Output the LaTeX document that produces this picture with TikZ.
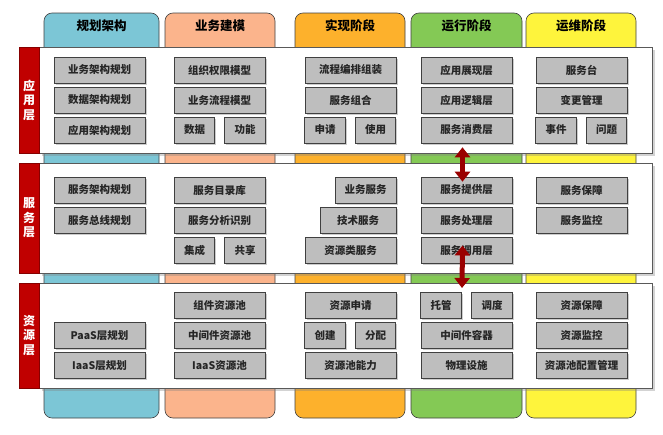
\documentclass[tikz,border=0pt]{standalone}
\usepackage{fontspec}
\setmainfont{Noto Sans CJK SC}
\usetikzlibrary{shadows,arrows.meta}
\definecolor{colA}{HTML}{7CC6D6}
\definecolor{colB}{HTML}{FBB48C}
\definecolor{colC}{HTML}{FDB12C}
\definecolor{colD}{HTML}{84C955}
\definecolor{colE}{HTML}{FEF43C}
\definecolor{barred}{HTML}{C00000}
\definecolor{boxgray}{HTML}{BEBEBE}
\definecolor{boxline}{HTML}{404040}
\definecolor{boxtext}{HTML}{262626}
\tikzset{
  stage/.style={draw=boxline, line width=0.6pt, rounded corners=8pt},
  stagetitle/.style={font=\bfseries\fontsize{12.5}{14}\selectfont, text=black},
  band/.style={draw=gray!70!black, line width=0.6pt, fill=white,
    drop shadow={shadow xshift=2.5pt, shadow yshift=-2.5pt, opacity=0.35}},
  layerbar/.style={fill=barred, draw=barred!70!black, line width=0.5pt},
  layertitle/.style={font=\bfseries\fontsize{12}{14.5}\selectfont, text=white, align=center},
  item/.style={draw=boxline, line width=0.6pt, fill=boxgray, minimum height=26pt,
    inner sep=0pt, font=\bfseries\fontsize{10.5}{12}\selectfont, text=boxtext,
    drop shadow={shadow xshift=1.5pt, shadow yshift=-1.5pt, opacity=0.4}},
  wide/.style={item, minimum width=91pt},
  half/.style={item, minimum width=40.5pt},
  link/.style={draw=barred!80!black, line width=5pt,
    {Triangle[width=15pt,length=10pt]}-{Triangle[width=15pt,length=10pt]}}
}
\begin{document}
\begin{tikzpicture}[x=1pt,y=-1pt]
\useasboundingbox (0,0) rectangle (663,434);

% stage columns
\draw[stage, fill=colA] (44,13) rectangle (159,418);
\draw[stage, fill=colB] (165,13) rectangle (275,418);
\draw[stage, fill=colC] (295,13) rectangle (405,418);
\draw[stage, fill=colD] (411,13) rectangle (522,418);
\draw[stage, fill=colE] (526,13) rectangle (636,418);
\node[stagetitle] (tA) at (101.5,26) {规划架构};
\node[stagetitle] (tB) at (220,26) {业务建模};
\node[stagetitle] (tC) at (350,26) {实现阶段};
\node[stagetitle] (tD) at (466.5,26) {运行阶段};
\node[stagetitle] (tE) at (581,26) {运维阶段};

% layer panels
\draw[band] (39,47) rectangle (652,153);
\draw[band] (39,163) rectangle (652,273);
\draw[band] (39,283) rectangle (652,388);
\draw[layerbar] (19,47) rectangle (39,153);
\draw[layerbar] (19,163) rectangle (39,273);
\draw[layerbar] (19,283) rectangle (39,388);
\node[layertitle] (lA) at (29,100) {应\\用\\层};
\node[layertitle] (lB) at (29,218) {服\\务\\层};
\node[layertitle] (lC) at (29,335.5) {资\\源\\层};

% application layer
\node[wide] (a11) at (99.5,70) {业务架构规划};
\node[wide] (a12) at (99.5,100) {数据架构规划};
\node[wide] (a13) at (99.5,130) {应用架构规划};
\node[wide] (a21) at (219.5,70) {组织权限模型};
\node[wide] (a22) at (219.5,100) {业务流程模型};
\node[half] (a23) at (194.5,130) {数据};
\node[half] (a24) at (245,130) {功能};
\node[wide] (a31) at (350.5,70) {流程编排组装};
\node[wide] (a32) at (350.5,100) {服务组合};
\node[half] (a33) at (325,130) {申请};
\node[half] (a34) at (375.5,130) {使用};
\node[wide] (a41) at (466.5,70) {应用展现层};
\node[wide] (a42) at (466.5,100) {应用逻辑层};
\node[wide] (a43) at (466.5,130) {服务消费层};
\node[wide] (a51) at (581.5,70) {服务台};
\node[wide] (a52) at (581.5,100) {变更管理};
\node[half] (a53) at (556,130) {事件};
\node[half] (a54) at (606.5,130) {问题};

% service layer
\node[wide] (b11) at (99.5,190) {服务架构规划};
\node[wide] (b12) at (99.5,220.5) {服务总线规划};
\node[wide] (b21) at (219.5,190) {服务目录库};
\node[wide] (b22) at (219.5,220.5) {服务分析识别};
\node[half] (b23) at (194.5,250.5) {集成};
\node[half] (b24) at (245,250.5) {共享};
\node[item, minimum width=61pt] (b31) at (365.5,190) {业务服务};
\node[item, minimum width=76pt] (b32) at (358,220.5) {技术服务};
\node[wide] (b33) at (350.5,250.5) {资源类服务};
\node[wide] (b41) at (466.5,190) {服务提供层};
\node[wide] (b42) at (466.5,220.5) {服务处理层};
\node[wide] (b43) at (466.5,250.5) {服务调用层};
\node[wide] (b51) at (581.5,190) {服务保障};
\node[wide] (b52) at (581.5,220.5) {服务监控};

% resource layer
\node[wide] (c11) at (99.5,335.5) {PaaS层规划};
\node[wide] (c12) at (99.5,365.5) {IaaS层规划};
\node[wide] (c21) at (219.5,305.5) {组件资源池};
\node[wide] (c22) at (219.5,335.5) {中间件资源池};
\node[wide] (c23) at (219.5,365.5) {IaaS资源池};
\node[wide] (c31) at (350.5,305.5) {资源申请};
\node[half] (c32) at (325,335.5) {创建};
\node[half] (c33) at (375.5,335.5) {分配};
\node[wide] (c34) at (350.5,365.5) {资源池能力};
\node[half] (c41) at (441,305.5) {托管};
\node[half] (c42) at (492,305.5) {调度};
\node[wide] (c43) at (466.5,335.5) {中间件容器};
\node[wide] (c44) at (466.5,365.5) {物理设施};
\node[wide] (c51) at (581.5,305.5) {资源保障};
\node[wide] (c52) at (581.5,335.5) {资源监控};
\node[wide] (c53) at (581.5,365.5) {资源池配置管理};

% links between layers
\coordinate (m1) at ([xshift=-4pt,yshift=-4pt]a43.south);
\coordinate (m2) at ([xshift=-4pt,yshift=-5pt]b41.north);
\draw[link] (m1) -- (m2);
\coordinate (m3) at ([xshift=-4pt,yshift=5pt]b43.center);
\coordinate (m4) at (462,288);
\draw[link] (m3) -- (m4);
\end{tikzpicture}
\end{document}
